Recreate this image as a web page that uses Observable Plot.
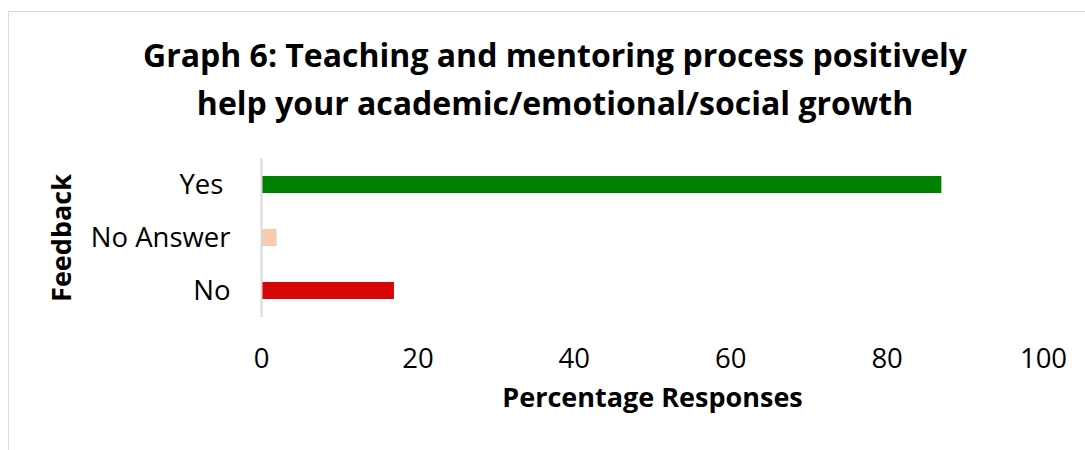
<!DOCTYPE html>
<html>
<head>
<meta charset="utf-8">
<script src="https://cdn.jsdelivr.net/npm/d3@7"></script>
<script src="https://cdn.jsdelivr.net/npm/@observablehq/plot@0.6"></script>
<style>
  html, body { margin: 0; padding: 0; background: #fff; }
  #wrap { position: relative; width: 1085px; height: 450px; overflow: hidden; font-family: "Open Sans", sans-serif; }
  #frame { position: absolute; left: 8px; top: 11px; width: 1200px; height: 600px; border: 1.5px solid #dadada; box-sizing: border-box; }
  #title { position: absolute; left: 0; top: 31px; width: 1110px; text-align: center; font-weight: bold; font-size: 32px; line-height: 48px; color: #000; }
  #chart { position: absolute; left: 0; top: 0; }
</style>
</head>
<body>
<div id="wrap">
  <div id="frame"></div>
  <div id="chart"></div>
  <div id="title">Graph 6: Teaching and mentoring process positively<br>help your academic/emotional/social growth</div>
</div>
<script>
const categories = ["Yes", "No Answer", "No"];
const values = [87, 2, 17];
const barColors = ["#008000", "#f8cbad", "#d40606"];
const xTicks = [0, 20, 40, 60, 80, 100];
const xLabel = "Percentage Responses";
const yLabel = "Feedback";

const data = categories.map((c, i) => ({category: c, value: values[i]}));

const chart = Plot.plot({
  width: 1085,
  height: 450,
  marginTop: 158,
  marginBottom: 133,
  marginLeft: 261,
  marginRight: 42,
  style: {fontFamily: "Open Sans", fontSize: "27.5px", color: "#000", background: "transparent", overflow: "visible"},
  x: {domain: [0, 100], label: null},
  y: {domain: categories, paddingInner: 0.68, paddingOuter: 0.34, label: null},
  color: {domain: categories, range: barColors},
  marks: [
    Plot.barX(data, {x: "value", y: "category", fill: "category"}),
    Plot.ruleX([0], {stroke: "#d9d9d9", strokeWidth: 2}),
    Plot.axisX({ticks: xTicks, tickSize: 0, tickPadding: 31, label: null}),
    Plot.axisY({tickSize: 0, tickPadding: 31, label: null, tickFormat: d => d === "Yes" ? "Yes\u00a0" : d}),
    Plot.text([yLabel], {frameAnchor: "left", dx: -199, rotate: -90, textAnchor: "middle", fontWeight: "bold", fontSize: 27, text: d => d}),
    Plot.text([xLabel], {frameAnchor: "bottom", dy: 89, textAnchor: "middle", fontWeight: "bold", fontSize: 27, text: d => d})
  ]
});
document.getElementById("chart").appendChild(chart);
</script>
</body>
</html>
